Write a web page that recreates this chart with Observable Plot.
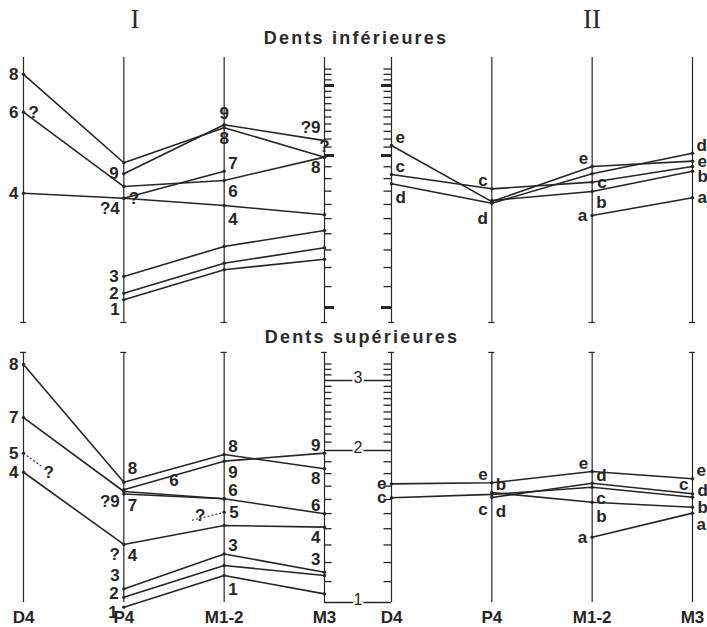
<!DOCTYPE html>
<html><head><meta charset="utf-8">
<script src="https://cdn.jsdelivr.net/npm/d3@7"></script>
<script src="https://cdn.jsdelivr.net/npm/@observablehq/plot@0.6"></script>
<style>
body{margin:0;background:#fff;}
#wrap{position:relative;width:707px;height:627px;}
#wrap svg{position:absolute;left:0;top:0;}
.t{position:absolute;transform:translate(-50%,-50%);white-space:nowrap;color:#2a2a2a;}
.roman{font-family:"Liberation Serif","DejaVu Serif",serif;font-size:27px;}
.sub{font-family:"Liberation Sans",Arial,sans-serif;font-weight:bold;font-size:18px;letter-spacing:2.2px;}
</style></head><body>
<div id="wrap"></div>
<script>
// ---- categories ----
const teeth = ["D4", "P4", "M1-2", "M3"];
const groups = ["I", "II"];
const panels = ["inf", "sup"];
const panelTitles = ["Dents inférieures", "Dents supérieures"];

// ---- central log-ratio scale ----
const scaleMajor = [1, 2, 3];
const scaleMajorLabels = ["1", "2", "3"];
const scaleMinor = [1.1, 1.2, 1.3, 1.4, 1.5, 1.6, 1.7, 1.8, 1.9,
                    2.1, 2.2, 2.3, 2.4, 2.5, 2.6, 2.7, 2.8, 2.9,
                    3.1, 3.2, 3.3];
const axisTop = [3.53, 3.53];      // inf, sup
const axisBottom = [0.934, 1.0];   // inf, sup

// ---- series: [id, D4, P4, M1-2, M3] ----
const infI = [
  ["8", 3.20, 1.935, 2.35, 1.985],
  ["9", null, 1.840, 2.39, 2.18],
  ["6", 2.57, 1.736, 1.785, 1.985],
  ["7", null, 1.646, 1.862, null],
  ["4", 1.684, 1.646, 1.592, 1.526],
  ["3", null, 1.152, 1.321, 1.421],
  ["2", null, 1.067, 1.224, 1.313],
  ["1", null, 1.036, 1.188, 1.246]
];
const infII = [
  ["e", 2.12, 1.621, 1.902, 1.949],
  ["c", 1.834, 1.718, 1.771, 1.902],
  ["d", 1.758, 1.609, 1.840, 2.027],
  ["b", null, 1.629, 1.697, 1.862],
  ["a", null, null, 1.521, 1.649]
];
const supI = [
  ["8", 3.29, 1.731, 1.964, 1.840],
  ["9", null, 1.672, 1.905, 1.976],
  ["7", 2.42, 1.659, 1.605, null],
  ["6", null, 1.640, 1.605, 1.499],
  ["5", 1.976, null, 1.510, null],
  ["4", 1.811, 1.303, 1.421, 1.410],
  ["3", null, 1.064, 1.248, 1.148],
  ["2", null, 1.024, 1.184, 1.131],
  ["1", null, 0.979, 1.131, 1.040]
];
const supII = [
  ["e", 1.718, 1.726, 1.817, 1.758],
  ["c", 1.612, 1.637, 1.692, 1.616],
  ["d", null, 1.614, 1.723, 1.642],
  ["b", null, 1.651, 1.580, 1.544],
  ["a", null, null, 1.347, 1.503]
];

// ---- point labels: [panel, group, tooth, value, text, side] ----
const pointLabels = [
  ["inf","I",0,3.20,"8","l"], ["inf","I",0,2.57,"6","l"], ["inf","I",0,2.57,"?","r"],
  ["inf","I",0,1.684,"4","l"],
  ["inf","I",1,1.840,"9","l"], ["inf","I",1,1.646,"?4","lb"], ["inf","I",1,1.646,"?","r"],
  ["inf","I",1,1.152,"3","l"], ["inf","I",1,1.067,"2","l"], ["inf","I",1,1.036,"1","lb"],
  ["inf","I",2,2.39,"9","t"], ["inf","I",2,2.35,"8","b"], ["inf","I",2,1.862,"7","ra"],
  ["inf","I",2,1.785,"6","rb"], ["inf","I",2,1.592,"4","RB"],
  ["inf","I",3,2.18,"?9","LA"], ["inf","I",3,1.985,"?","t"], ["inf","I",3,1.985,"8","lb"],
  ["inf","II",0,2.12,"e","ra"], ["inf","II",0,1.834,"c","ra"], ["inf","II",0,1.758,"d","RB"],
  ["inf","II",1,1.718,"c","la"], ["inf","II",1,1.609,"d","LB"],
  ["inf","II",2,1.902,"e","la"], ["inf","II",2,1.771,"c","r"], ["inf","II",2,1.697,"b","rb"],
  ["inf","II",2,1.521,"a","l"],
  ["inf","II",3,2.027,"d","ra"], ["inf","II",3,1.949,"e","r"], ["inf","II",3,1.862,"b","rd"],
  ["inf","II",3,1.649,"a","r"],
  ["sup","I",0,3.29,"8","l"], ["sup","I",0,2.42,"7","l"], ["sup","I",0,1.976,"5","l"],
  ["sup","I",0,1.811,"4","l"],
  ["sup","I",1,1.731,"8","RA"], ["sup","I",1,1.659,"?9","lb"], ["sup","I",1,1.659,"7","RB"],
  ["sup","I",1,1.303,"?","lb"], ["sup","I",1,1.303,"4","rb"], ["sup","I",1,1.064,"3","LA"],
  ["sup","I",1,1.024,"2","lu"], ["sup","I",1,0.979,"1","ld"],
  ["sup","I",2,1.964,"8","ra"], ["sup","I",2,1.905,"9","rb"], ["sup","I",2,1.605,"6","ra"],
  ["sup","I",2,1.510,"5","r"], ["sup","I",2,1.248,"3","ra"], ["sup","I",2,1.131,"1","RB"],
  ["sup","I",3,1.976,"9","la"], ["sup","I",3,1.840,"8","lb"], ["sup","I",3,1.499,"6","la"],
  ["sup","I",3,1.410,"4","lb"], ["sup","I",3,1.148,"3","LA"],
  ["sup","II",0,1.718,"e","l"], ["sup","II",0,1.612,"c","l"],
  ["sup","II",1,1.726,"e","la"], ["sup","II",1,1.651,"b","ra"], ["sup","II",1,1.637,"c","LB"],
  ["sup","II",1,1.614,"d","RB"],
  ["sup","II",2,1.817,"e","la"], ["sup","II",2,1.723,"d","ra"], ["sup","II",2,1.692,"c","rb"],
  ["sup","II",2,1.580,"b","RB"], ["sup","II",2,1.347,"a","l"],
  ["sup","II",3,1.758,"e","ra"], ["sup","II",3,1.616,"c","LA"], ["sup","II",3,1.642,"d","ru"],
  ["sup","II",3,1.544,"b","r"], ["sup","II",3,1.503,"a","rb"]
];
// free annotations (in data units): [panel, group, toothPos, value, text]
const freeNotes = [
  ["sup","I",0.25,1.809,"?"],
  ["sup","I",1.5,1.745,"6"],
  ["sup","I",1.76,1.485,"?"]
];
// dashed connectors: [panel, group, tooth1, value1, tooth2, value2]
const dashedLinks = [
  ["sup","I",0,1.976,0.18,1.86],
  ["sup","I",1.68,1.455,1.98,1.505]
];

// ---- layout constants ----
const W = 707, H = 627, ML = 23, MR = 14, MT = 40, MB = 7;
const FX_PAD = 0.1818, FY_PAD = 0.034;
const gapUnits = 3 * FX_PAD / (1 - FX_PAD);   // gap between I and II in x units
const ink = "#262626";
const font = "Liberation Sans, Arial, sans-serif";

// ---- build tables ----
const tables = [["inf","I",infI],["inf","II",infII],["sup","I",supI],["sup","II",supII]];
const pts = [];
for (const [panel, group, rows] of tables)
  for (const [id, ...vals] of rows)
    vals.forEach((v, t) => pts.push({panel, group, id, t, v: v == null ? NaN : v}));

const axisRows = [];
panels.forEach((panel, pi) => groups.forEach(group => teeth.forEach((_, t) =>
  axisRows.push({panel, group, t, y1: axisBottom[pi], y2: axisTop[pi]}))));
const dashRows = axisRows.map(d => ({...d, v: d.panel === "inf" ? d.y1 : d.y2}));

const Lm = 0.075, LM = 0.1, Ld = 0.03;
const minorRows = [];
for (const panel of panels) for (const v of scaleMinor) {
  minorRows.push({panel, group: "I", v, x1: 3, x2: 3 + Lm});
  minorRows.push({panel, group: "II", v, x1: -Lm, x2: 0});
}
const majorRows = [];
for (const v of scaleMajor) {
  majorRows.push({panel: "inf", group: "I", v, x1: 3, x2: 3 + LM});
  majorRows.push({panel: "inf", group: "II", v, x1: -LM, x2: 0});
}
const boxRows = scaleMajor.map((v, i) => ({panel: "sup", group: "I", v, label: scaleMajorLabels[i]}));
const tickLabelRows = [];
groups.forEach(group => teeth.forEach((name, t) => tickLabelRows.push({panel: "sup", group, t, name})));

const labelRows = pointLabels.map(([panel, group, t, v, text, side]) => ({panel, group, t, v, text, side}));
const sides = {
  l: {dx: -5, dy: 0, a: "end"}, r: {dx: 5, dy: 0, a: "start"},
  lu: {dx: -5, dy: -4, a: "end"}, ld: {dx: -6, dy: 5, a: "end"},
  ru: {dx: 5, dy: -3, a: "start"}, rd: {dx: 5, dy: 5, a: "start"},
  la: {dx: -4, dy: -8, a: "end"}, lb: {dx: -4, dy: 10, a: "end"},
  LA: {dx: -4, dy: -13, a: "end"}, LB: {dx: -4, dy: 15, a: "end"},
  ra: {dx: 4, dy: -8, a: "start"}, rb: {dx: 4, dy: 11, a: "start"},
  RA: {dx: 4, dy: -14, a: "start"}, RB: {dx: 4, dy: 14, a: "start"},
  t: {dx: 0, dy: -11, a: "middle"}, b: {dx: 0, dy: 11, a: "middle"}
};
const labelMarks = Object.entries(sides).map(([k, s]) =>
  Plot.text(labelRows.filter(d => d.side === k), {
    x: "t", y: "v", text: "text", fx: "group", fy: "panel",
    dx: s.dx, dy: s.dy, textAnchor: s.a, fill: ink,
    fontFamily: font, fontWeight: "bold", fontSize: 17
  }));

const facet = {fx: "group", fy: "panel"};
const chart = Plot.plot({
  width: W, height: H,
  marginLeft: ML, marginRight: MR, marginTop: MT, marginBottom: MB,
  style: {background: "white", color: ink},
  fx: {domain: groups, paddingInner: FX_PAD, paddingOuter: 0, axis: null},
  fy: {domain: panels, paddingInner: FY_PAD, paddingOuter: 0, axis: null},
  x: {domain: [0, 3], axis: null},
  y: {type: "log", domain: scaleMajor, range: [307, 155, 85], axis: null},
  marks: [
    Plot.ruleX(axisRows, {x: "t", y1: "y1", y2: "y2", ...facet, stroke: ink, strokeWidth: 1.2}),
    Plot.ruleY(dashRows, {y: "v", x1: d => d.t - Ld, x2: d => d.t + Ld, ...facet, stroke: ink, strokeWidth: 1.2}),
    Plot.ruleY(minorRows, {y: "v", x1: "x1", x2: "x2", ...facet, stroke: ink, strokeWidth: 1.3}),
    Plot.ruleY(majorRows, {y: "v", x1: "x1", x2: "x2", ...facet, stroke: ink, strokeWidth: 3}),
    Plot.ruleY(boxRows, {y: "v", x1: () => 3, x2: () => 3 + gapUnits, ...facet, stroke: ink, strokeWidth: 1.3}),
    Plot.text(boxRows, {x: () => 3 + gapUnits / 2, y: "v", text: "label", ...facet,
      lineAnchor: "bottom", dy: 2, fill: ink, stroke: "white", strokeWidth: 4, paintOrder: "stroke",
      fontFamily: font, fontSize: 16}),
    Plot.line(pts, {x: "t", y: "v", z: d => d.id, ...facet, stroke: ink, strokeWidth: 1.6}),
    Plot.dot(pts.filter(d => !isNaN(d.v)), {x: "t", y: "v", ...facet, r: 1.7, fill: ink}),
    Plot.link(dashedLinks.map(([panel, group, t1, v1, t2, v2]) => ({panel, group, t1, v1, t2, v2})),
      {x1: "t1", y1: "v1", x2: "t2", y2: "v2", ...facet, stroke: ink, strokeWidth: 1.1, strokeDasharray: "2,2"}),
    Plot.text(freeNotes.map(([panel, group, t, v, text]) => ({panel, group, t, v, text})),
      {x: "t", y: "v", text: "text", ...facet, fill: ink, fontFamily: font, fontWeight: "bold", fontSize: 17}),
    ...labelMarks,
    Plot.text(tickLabelRows, {x: "t", frameAnchor: "bottom", text: "name", ...facet,
      lineAnchor: "bottom", dy: 2, fill: ink, fontFamily: font, fontWeight: "bold", fontSize: 17})
  ]
});

const wrap = document.getElementById("wrap");
wrap.appendChild(chart);
const titles = [
  {text: groups[0], cls: "roman", x: 135, y: 19},
  {text: groups[1], cls: "roman", x: 592, y: 19},
  {text: panelTitles[0], cls: "sub", x: 356, y: 38},
  {text: panelTitles[1], cls: "sub", x: 362, y: 337}
];
for (const t of titles) {
  const el = document.createElement("div");
  el.className = "t " + t.cls;
  el.textContent = t.text;
  el.style.left = t.x + "px";
  el.style.top = t.y + "px";
  wrap.appendChild(el);
}
</script>
</body></html>
